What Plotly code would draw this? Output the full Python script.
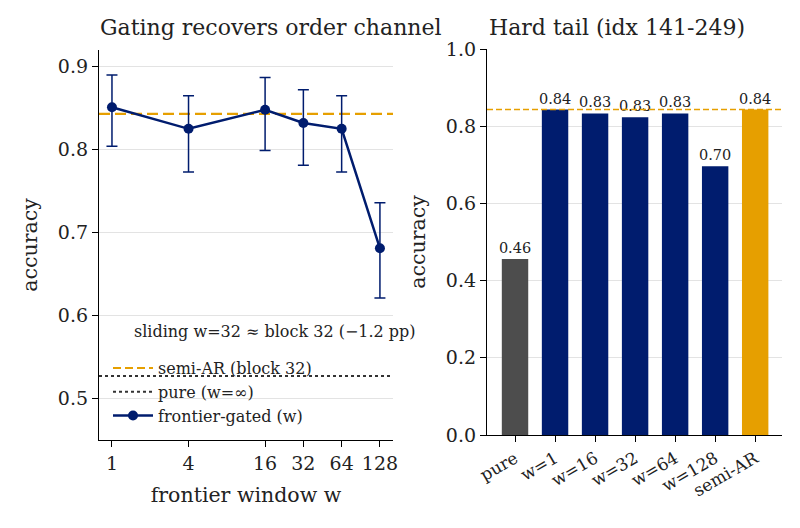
import plotly.graph_objects as go

# left panel: frontier-gated accuracy vs window
windows = [1, 4, 16, 32, 64, 128]
gated_acc = [0.851, 0.825, 0.848, 0.832, 0.825, 0.681]
gated_hi = [0.890, 0.865, 0.887, 0.872, 0.865, 0.736]
gated_lo = [0.804, 0.773, 0.799, 0.781, 0.773, 0.621]
semi_ar_acc = 0.843
pure_acc = 0.527

# right panel: hard tail
tail_labels = ["pure", "w=1", "w=16", "w=32", "w=64", "w=128", "semi-AR"]
tail_acc = [0.456, 0.843, 0.833, 0.823, 0.833, 0.696, 0.843]
tail_text = ["0.46", "0.84", "0.83", "0.83", "0.83", "0.70", "0.84"]

NAVY = "#001c6e"
ORANGE = "#e69f00"
GREY = "#4d4d4d"
FONT = "DejaVu Serif"

# page body has an 8px margin, so place things in screen pixels minus that
def px(x):
    return (x - 8) / 800

def py(y):
    return 1 - (y - 8) / 528

err_plus = [h - a for h, a in zip(gated_hi, gated_acc)]
err_minus = [a - l for a, l in zip(gated_acc, gated_lo)]

fig = go.Figure()

# legend-only entries for the reference lines
fig.add_trace(go.Scatter(x=[None], y=[None], mode="lines", name="semi-AR (block 32)",
                         line=dict(color=ORANGE, width=2, dash="8px,4px"), xaxis="x", yaxis="y"))
fig.add_trace(go.Scatter(x=[None], y=[None], mode="lines", name="pure (w=\u221e)",
                         line=dict(color="#333333", width=2, dash="dot"), xaxis="x", yaxis="y"))
fig.add_trace(go.Scatter(
    x=windows, y=gated_acc, mode="lines+markers", name="frontier-gated (w)",
    line=dict(color=NAVY, width=2.5), marker=dict(color=NAVY, size=10),
    error_y=dict(type="data", symmetric=False, array=err_plus, arrayminus=err_minus,
                 color=NAVY, thickness=1.5, width=5.5),
    xaxis="x", yaxis="y"))

fig.add_trace(go.Bar(
    x=tail_labels, y=tail_acc, text=tail_text, textposition="outside", constraintext="none",
    textfont=dict(size=14.5, color="#222222", family=FONT),
    marker=dict(color=[GREY] + [NAVY] * 5 + [ORANGE], line=dict(width=0)),
    width=0.66, cliponaxis=False, showlegend=False, xaxis="x2", yaxis="y2"))

shapes = [
    dict(type="line", xref="x domain", yref="y", x0=0, x1=1, y0=semi_ar_acc, y1=semi_ar_acc,
         line=dict(color=ORANGE, width=2.2, dash="11px,5px"), layer="below"),
    dict(type="line", xref="x domain", yref="y", x0=0, x1=1, y0=pure_acc, y1=pure_acc,
         line=dict(color="#333333", width=2, dash="dot"), layer="below"),
    dict(type="line", xref="x2 domain", yref="y2", x0=0, x1=1, y0=semi_ar_acc, y1=semi_ar_acc,
         line=dict(color=ORANGE, width=1.5, dash="6px,3px"), layer="above"),
]

axis_common = dict(showline=True, linecolor="black", linewidth=1.3, ticks="outside",
                   ticklen=6, tickwidth=1.3, tickcolor="black", automargin=False,
                   tickfont=dict(size=19, family=FONT, color="#222222"))

fig.update_layout(
    width=800, height=528,
    margin=dict(l=0, r=0, t=0, b=0),
    paper_bgcolor="white", plot_bgcolor="white",
    font=dict(family=FONT, color="#222222"),
    shapes=shapes,
    xaxis=dict(domain=[px(99), px(393)], type="log", range=[-0.102, 2.21],
               tickvals=windows, ticktext=[str(w) for w in windows], showgrid=False,
               title=dict(text="frontier window w", font=dict(size=20.5, family=FONT), standoff=14),
               anchor="y", **axis_common),
    yaxis=dict(domain=[py(440), py(50)], range=[0.45, 0.92], tickvals=[0.5, 0.6, 0.7, 0.8, 0.9],
               tickformat=".1f", showgrid=True, gridcolor="#e3e3e3", gridwidth=1, zeroline=False,
               title=dict(text="accuracy", font=dict(size=20.5, family=FONT), standoff=14),
               anchor="x", **axis_common),
    xaxis2=dict(domain=[px(487), px(782)], range=[-0.7, 6.67], tickangle=-30, showgrid=False,
                anchor="y2", **{**axis_common, "tickfont": dict(size=17, family=FONT, color="#222222")}),
    yaxis2=dict(domain=[py(435), py(49)], range=[0, 1.0], tickvals=[0, 0.2, 0.4, 0.6, 0.8, 1.0],
                tickformat=".1f", showgrid=True, gridcolor="#e3e3e3", gridwidth=1, zeroline=False,
                title=dict(text="accuracy", font=dict(size=20.5, family=FONT), standoff=14),
                anchor="x2", **axis_common),
    legend=dict(x=0.125, y=0.195, xanchor="left", yanchor="bottom", bgcolor="rgba(0,0,0,0)",
                font=dict(size=16, family=FONT), tracegroupgap=0, itemwidth=40),
    annotations=[
        dict(text="Gating recovers order channel", xref="paper", yref="paper", x=px(98), y=py(28),
             xanchor="left", yanchor="middle", showarrow=False, font=dict(size=22, family=FONT)),
        dict(text="Hard tail (idx 141-249)", xref="paper", yref="paper", x=px(487), y=py(28),
             xanchor="left", yanchor="middle", showarrow=False, font=dict(size=22, family=FONT)),
        dict(text="sliding w=32 \u2248 block 32 (\u22121.2 pp)", xref="paper", yref="paper",
             x=px(275), y=py(331), xanchor="center", yanchor="middle", showarrow=False,
             font=dict(size=16, family=FONT)),
    ],
)

fig.write_html("out.html")
